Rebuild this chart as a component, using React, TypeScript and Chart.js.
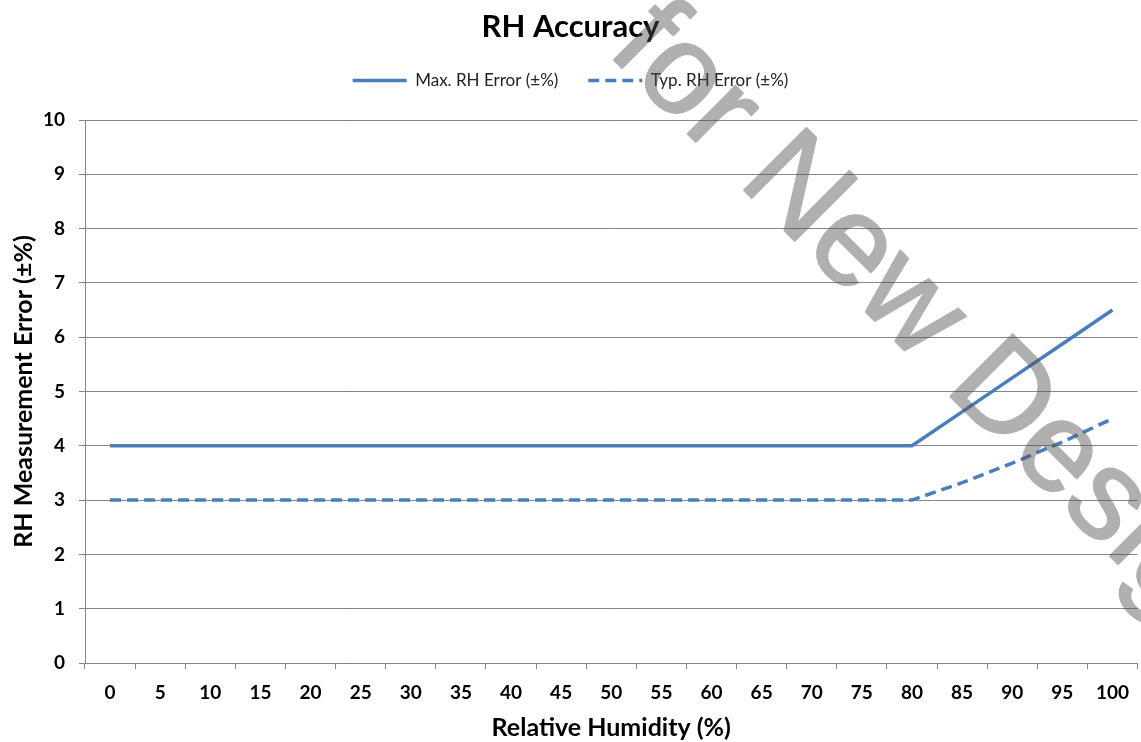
import React, { useEffect, useRef } from "react";
import { Chart, registerables } from "chart.js";

Chart.register(...registerables);

const humidity = ["0","5","10","15","20","25","30","35","40","45","50","55","60","65","70","75","80","85","90","95","100"];
const maxError = [4,4,4,4,4,4,4,4,4,4,4,4,4,4,4,4,4,4.625,5.25,5.875,6.5];
const typError = [3,3,3,3,3,3,3,3,3,3,3,3,3,3,3,3,3,3.32,3.68,4.07,4.5];
const yTicks = [0,1,2,3,4,5,6,7,8,9,10];
const watermarkText = "for New Designs";

const BLUE = "#4a7ebb";
const GRID = "#868686";
const FONT = "Lato, 'Open Sans', sans-serif";
const DASH = [11, 6];

const watermark = {
  id: "watermark",
  afterDraw(chart: any) {
    const ctx = chart.ctx;
    const off = document.createElement("canvas");
    off.width = chart.width;
    off.height = chart.height;
    const o = off.getContext("2d") as CanvasRenderingContext2D;
    o.font = "128px 'Liberation Sans', Arial, sans-serif";
    o.fillStyle = "#505050";
    o.strokeStyle = "#505050";
    o.lineWidth = 2;
    o.lineJoin = "round";
    o.textBaseline = "alphabetic";
    o.translate(606, 52);
    o.rotate((45 * Math.PI) / 180);
    o.fillText(watermarkText, 0, 0);
    o.strokeText(watermarkText, 0, 0);
    ctx.save();
    ctx.globalAlpha = 0.45;
    ctx.drawImage(off, 0, 0);
    ctx.restore();
  },
};

export default function App() {
  const ref = useRef<HTMLCanvasElement>(null);
  useEffect(() => {
    if (!ref.current) return;
    const chart = new Chart(ref.current, {
      type: "line",
      data: {
        labels: humidity,
        datasets: [
          {
            label: "Max. RH Error (±%)",
            data: maxError,
            borderColor: BLUE,
            backgroundColor: BLUE,
            borderWidth: 3.5,
            pointRadius: 0,
            tension: 0,
          },
          {
            label: "Typ. RH Error (±%)",
            data: typError,
            borderColor: BLUE,
            backgroundColor: BLUE,
            borderWidth: 3.5,
            borderDash: DASH,
            pointRadius: 0,
            tension: 0,
          },
        ],
      },
      options: {
        animation: false,
        responsive: false,
        maintainAspectRatio: false,
        layout: { padding: { left: 0, right: 0, top: 0, bottom: 0 } },
        plugins: {
          tooltip: { enabled: false },
          title: {
            display: true,
            text: "RH Accuracy",
            color: "#000",
            font: { family: FONT, size: 31, weight: "bold", lineHeight: 1.0 },
            padding: { top: 11, bottom: 0 },
          },
          subtitle: {
            display: true,
            text: " ",
            font: { size: 10, lineHeight: 1 },
            padding: { top: 5, bottom: 6 },
          },
          legend: {
            display: true,
            weight: 1800,
            labels: {
              usePointStyle: true,
              pointStyle: "line",
              pointStyleWidth: 54,
              color: "#222",
              font: { family: FONT, size: 17 },
              padding: 30,
              generateLabels(chart: any) {
                const items = (Chart.defaults.plugins.legend.labels as any).generateLabels(chart);
                items.forEach((it: any, i: number) => {
                  it.lineWidth = 3.5;
                  it.strokeStyle = BLUE;
                  it.lineDash = i === 1 ? DASH : [];
                });
                return items;
              },
            },
          },
        } as any,
        scales: {
          x: {
            type: "category",
            offset: true,
            grid: {
              offset: true,
              drawOnChartArea: false,
              drawTicks: true,
              tickLength: 6,
              color: GRID,
            },
            border: { color: GRID, width: 1 },
            ticks: {
              color: "#000",
              font: { family: FONT, size: 19, weight: "bold" },
              padding: 12,
              maxRotation: 0,
              autoSkip: false,
            },
            title: {
              display: true,
              text: "Relative Humidity (%)",
              color: "#000",
              font: { family: FONT, size: 25, weight: "bold", lineHeight: 1.1 },
              padding: { top: 0, bottom: 0 },
            },
            afterFit(scale: any) {
              scale.height = 79;
            },
          },
          y: {
            min: 0,
            max: 10,
            afterBuildTicks(scale: any) {
              scale.ticks = yTicks.map((v) => ({ value: v }));
            },
            grid: {
              color: GRID,
              lineWidth: 1,
              tickLength: 6,
            },
            border: { color: GRID, width: 1 },
            ticks: {
              color: "#000",
              font: { family: FONT, size: 19, weight: "bold" },
              padding: 14,
            },
            title: {
              display: true,
              text: "RH Measurement Error (±%)",
              color: "#000",
              font: { family: FONT, size: 25, weight: "bold", lineHeight: 1.1 },
              padding: { top: 10, bottom: 0 },
            },
            afterFit(scale: any) {
              scale.width = 85;
            },
          },
        },
      },
      plugins: [watermark],
    });
    return () => chart.destroy();
  }, []);
  return (
    <div style={{ position: "fixed", left: 0, top: 0, width: 1141, height: 742, background: "#fff" }}>
      <canvas ref={ref} width={1141} height={742} style={{ width: 1141, height: 742, display: "block" }} />
    </div>
  );
}
